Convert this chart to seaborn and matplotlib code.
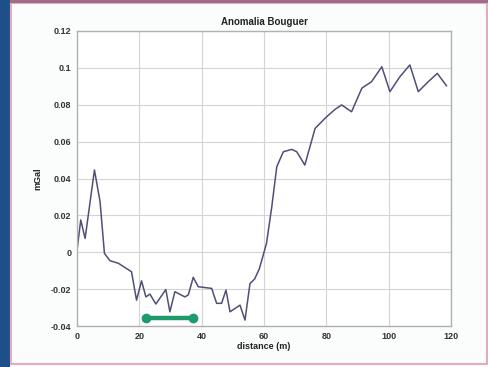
import matplotlib
matplotlib.use("Agg")
import matplotlib.pyplot as plt
import seaborn as sns
import pandas as pd
from matplotlib.patches import Rectangle

# Bouguer anomaly profile
distance = [0, 1.2, 2.6, 5.6, 7.4, 8.8, 10.6, 13.3, 17.5, 19.1, 20.7, 22.1, 23.4,
            25.3, 28.5, 29.8, 31.4, 34.6, 35.7, 37.3, 38.9, 43.2, 44.8, 46.4,
            47.8, 49.1, 52.3, 53.9, 55.5, 57.0, 58.5, 60.8, 62.5, 64.1, 66.2,
            68.9, 70.5, 73.1, 76.4, 80.1, 82.8, 84.9, 88.1, 91.4, 94.5, 97.8,
            100.4, 103.6, 106.8, 109.5, 112.7, 115.6, 118.6]
anomaly = [0.001, 0.0175, 0.0075, 0.0446, 0.0274, -0.0006, -0.0046, -0.006,
           -0.0106, -0.026, -0.0155, -0.0242, -0.0227, -0.0281, -0.0202,
           -0.0323, -0.0214, -0.0242, -0.0232, -0.0136, -0.0187, -0.0196,
           -0.0277, -0.0277, -0.0205, -0.0323, -0.0287, -0.0368, -0.017,
           -0.0145, -0.009, 0.0048, 0.0247, 0.0464, 0.0545, 0.0558, 0.0545,
           0.0473, 0.0672, 0.0735, 0.0775, 0.0799, 0.0762, 0.089, 0.0925,
           0.1006, 0.0871, 0.0952, 0.1016, 0.0871, 0.0925, 0.097, 0.0902]

# highlighted segment
span_x = [22.0, 37.3]
span_y = [-0.0358, -0.0358]

xticks = [0, 20, 40, 60, 80, 100, 120]
yticks = [-0.04, -0.02, 0, 0.02, 0.04, 0.06, 0.08, 0.1, 0.12]
ylabels = ['-0.04', '-0.02', '0', '0.02', '0.04', '0.06', '0.08', '0.1', '0.12']

df = pd.DataFrame({'distance': distance, 'anomaly': anomaly})

sns.set_style("whitegrid", {'grid.color': '#d4d4d4', 'axes.edgecolor': '#b0b0b0'})
plt.rcParams['font.family'] = ['Liberation Sans', 'DejaVu Sans']

fig = plt.figure(figsize=(4.88, 3.67), dpi=100)
fig.patch.set_facecolor('#fbfdfd')

# frame decorations
fig.patches.append(Rectangle((0, 0), 10 / 488, 1, transform=fig.transFigure,
                             facecolor='#1f4f8a', edgecolor='none', zorder=0))
fig.patches.append(Rectangle((11 / 488, 3 / 367), 476 / 488, 361 / 367,
                             transform=fig.transFigure, facecolor='none',
                             edgecolor='#e6a9bd', linewidth=1.5, zorder=0))
fig.patches.append(Rectangle((10 / 488, 364 / 367), 478 / 488, 3 / 367,
                             transform=fig.transFigure, facecolor='#9c6f86',
                             edgecolor='none', zorder=0))

ax = fig.add_axes([77 / 488, 41 / 367, 374 / 488, 295 / 367])
ax.set_facecolor('white')

sns.lineplot(data=df, x='distance', y='anomaly', ax=ax, color='#4f4f78',
             linewidth=1.1, sort=False)
ax.plot(span_x, span_y, color='#1e9a6c', linewidth=3.2, marker='o',
        markersize=6, solid_capstyle='round')

ax.set_xlim(0, 120)
ax.set_ylim(-0.04, 0.12)
ax.set_xticks(xticks)
ax.set_yticks(yticks)
ax.set_yticklabels(ylabels)
ax.tick_params(labelsize=6.5, length=2, color='#b0b0b0', pad=2)
for lab in ax.get_xticklabels() + ax.get_yticklabels():
    lab.set_fontweight('bold')
    lab.set_color('#333333')

ax.set_title('Anomalia Bouguer', fontsize=7, fontweight='bold', pad=4, color='#222222')
ax.set_xlabel('distance (m)', fontsize=6.5, fontweight='bold', labelpad=1, color='#222222')
ax.set_ylabel('mGal', fontsize=6.5, fontweight='bold', labelpad=6, color='#222222')

for s in ax.spines.values():
    s.set_linewidth(1.0)

fig.savefig('out.png', dpi=100)
